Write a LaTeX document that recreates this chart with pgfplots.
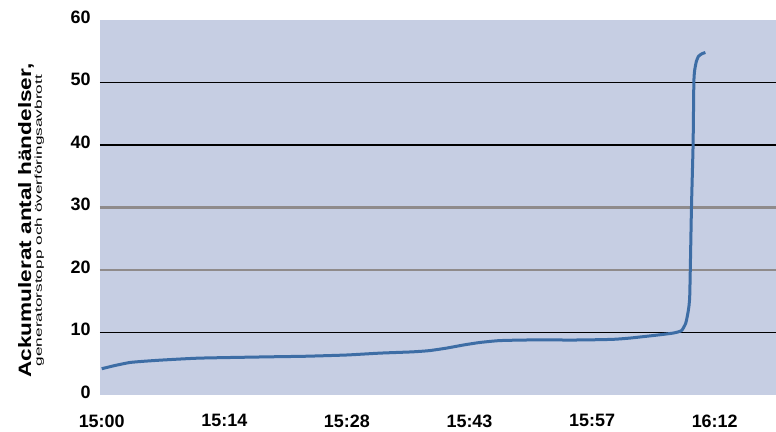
\documentclass[border=0pt]{standalone}
\usepackage{fontspec}
\setmainfont{Liberation Sans}
\usepackage{pgfplots}
\pgfplotsset{compat=1.18}
\definecolor{bgpanel}{RGB}{198,206,227}
\definecolor{curve}{RGB}{61,109,165}
\definecolor{gridgrey}{RGB}{143,139,139}

\begin{document}
\begin{tikzpicture}
\begin{axis}[
  name=ax,
  scale only axis,
  width=676bp, height=375bp,
  xmin=-0.2, xmax=79.2,
  ymin=0, ymax=60,
  axis line style={draw=none},
  axis background/.style={fill=bgpanel},
  xtick={0,14.4,28.8,43.2,57.6,72},
  xticklabels={15:00,15:14,15:28,15:43,15:57,16:12},
  ytick={0,10,...,60},
  minor ytick={10,40,50},
  extra y ticks={20,30},
  extra y tick labels={},
  major tick length=0pt, minor tick length=0pt,
  yminorgrids,
  minor grid style={black, line width=1.6bp},
  extra y tick style={grid=major, major grid style={gridgrey, line width=2.4bp}},
  tick label style={font=\fontsize{18}{20}\selectfont\bfseries},
  /pgf/number format/assume math mode=true,
  yticklabel style={xshift=-6bp, yshift=3bp},
  xticklabel style={yshift=-16bp},
  ylabel={\scalebox{1.26}[1]{\fontsize{18}{20}\selectfont\bfseries Ackumulerat antal händelser,}\\[-1bp]
          \scalebox{1.73}[1]{\fontsize{10}{12}\selectfont generatorstopp och överföringsavbrott}},
  ylabel style={at={(axis description cs:-0.102,0.465)}, anchor=center, align=center},
]
\addplot[curve, line width=3bp, line join=round, smooth, tension=0.3] coordinates {
  (0,4.2) (1.5,4.7) (3.3,5.2) (5,5.4) (7.2,5.6) (11.5,5.9) (19.4,6.1)
  (24,6.2) (28.8,6.4) (32.7,6.7) (36.5,6.9) (38.5,7.1) (40.5,7.5)
  (42.5,8.0) (44.4,8.4) (46.7,8.7) (50,8.8) (56.1,8.8) (60,8.9)
  (62,9.1) (64.7,9.5) (67.1,9.9) (68.1,10.3) (68.6,11.5) (68.9,13.5)
  (69.07,16) (69.27,30) (69.46,40) (69.55,50) (69.65,52) (69.85,53.4)
  (70.1,54.2) (70.5,54.6) (70.9,54.8)
};
\end{axis}
\pgfresetboundingbox
\path[use as bounding box] ([shift={(-100bp,-37bp)}]ax.south west) rectangle ([shift={(0bp,20bp)}]ax.north east);
\end{tikzpicture}
\end{document}
